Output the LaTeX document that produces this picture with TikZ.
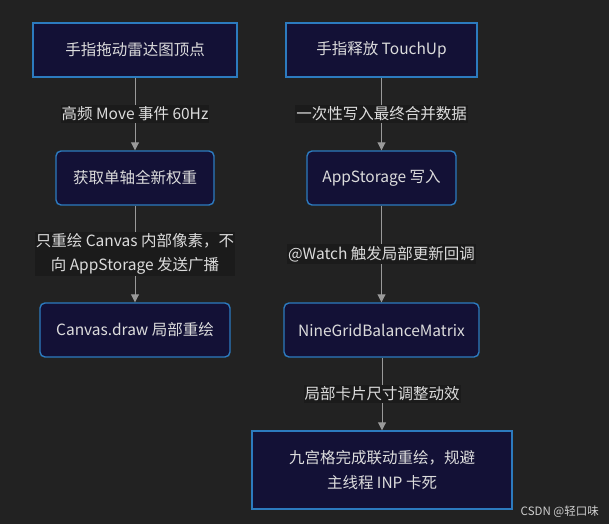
\documentclass[tikz,border=0pt]{standalone}
\usepackage{fontspec}
\setmainfont{Noto Sans CJK SC}
\usetikzlibrary{arrows.meta}
\definecolor{bgc}{HTML}{222222}
\definecolor{lblbg}{HTML}{1B1B1B}
\definecolor{nodefill}{HTML}{131136}
\definecolor{nodeborder}{HTML}{2C7BBF}
\definecolor{fgc}{HTML}{DCDCDC}
\definecolor{edgec}{HTML}{9A9A9A}
\definecolor{wmc}{HTML}{CFCFCF}
\tikzset{
  sqbox/.style={rectangle, draw=nodeborder, fill=nodefill, line width=1.4pt, text=fgc, font=\fontsize{15.5}{25}\selectfont, align=center, inner sep=0pt},
  rdbox/.style={sqbox, rounded corners=5pt},
  edgelbl/.style={fill=lblbg, text=fgc, font=\fontsize{15.5}{24}\selectfont, align=center, inner xsep=1pt, inner ysep=2pt},
  flow/.style={draw=edgec, line width=0.9pt, -{Triangle[width=8pt,length=8pt]}}
}
\begin{document}
\begin{tikzpicture}[x=1pt,y=-1pt]
\fill[bgc] (0,0) rectangle (609,524);
\useasboundingbox (0,0) rectangle (609,524);
% left column
\node[sqbox, minimum width=204pt, minimum height=54pt] (a) at (135,50) {手指拖动雷达图顶点};
\node[rdbox, minimum width=158pt, minimum height=54pt] (b) at (135,178) {获取单轴全新权重};
\node[rdbox, minimum width=190pt, minimum height=54pt] (c) at (135,330) {Canvas.draw 局部重绘};
% right column
\node[sqbox, minimum width=191pt, minimum height=54pt] (d) at (381.5,50) {手指释放 TouchUp};
\node[rdbox, minimum width=149pt, minimum height=54pt] (e) at (381.5,178) {AppStorage 写入};
\node[rdbox, minimum width=195pt, minimum height=54pt] (f) at (381.5,330) {NineGridBalanceMatrix};
\node[sqbox, minimum width=260pt, minimum height=78pt] (g) at (382,470) {九宫格完成联动重绘，规避\\主线程 INP 卡死};
% edges
\draw[flow] (a) -- node[edgelbl] {高频 Move 事件 60Hz} (b);
\draw[flow] (b) -- node[edgelbl] {只重绘 Canvas 内部像素，不\\向 AppStorage 发送广播} (c);
\draw[flow] (d) -- node[edgelbl] {一次性写入最终合并数据} (e);
\draw[flow] (e) -- node[edgelbl] {@Watch 触发局部更新回调} (f);
\draw[flow] (f.south -| g.north) -- node[edgelbl] {局部卡片尺寸调整动效} (g.north);
% watermark
\node[text=wmc, font=\fontsize{11.5}{13}\selectfont, anchor=east, inner sep=0pt] (wm) at (599,512) {CSDN @轻口味};
\end{tikzpicture}
\end{document}
